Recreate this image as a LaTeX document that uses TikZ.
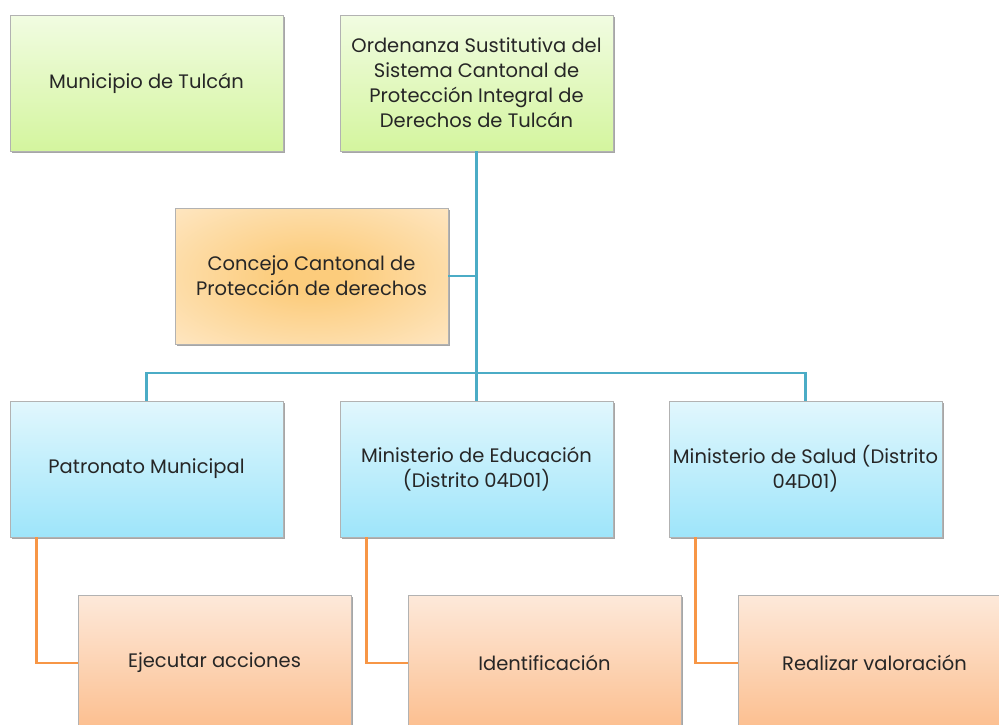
\documentclass[tikz,border=0pt]{standalone}
\usepackage{fontspec}
\setmainfont{Poppins}
\usetikzlibrary{shadows}
\definecolor{linkblue}{RGB}{75,172,198}
\definecolor{linkorange}{RGB}{247,150,70}
\definecolor{greentop}{RGB}{241,252,226}
\definecolor{greenbot}{RGB}{212,245,158}
\definecolor{bluetop}{RGB}{225,247,253}
\definecolor{bluebot}{RGB}{158,229,250}
\definecolor{orangetop}{RGB}{253,233,218}
\definecolor{orangebot}{RGB}{252,190,142}
\definecolor{concejoin}{RGB}{252,204,124}
\definecolor{concejoout}{RGB}{255,241,222}
\pgfdeclareradialshading{concejoshade}{\pgfpoint{0bp}{0bp}}{%
  color(0bp)=(concejoin); color(6bp)=(concejoin); color(48bp)=(concejoout); color(50bp)=(concejoout)}

\begin{document}
\begin{tikzpicture}[x=1pt, y=-1pt,
  box/.style={draw=gray!60, line width=0.8pt, minimum width=273pt, minimum height=136pt,
    align=center, inner sep=0pt, text=black!85,
    font=\fontsize{19.5}{25}\selectfont,
    drop shadow={shadow xshift=1.5pt, shadow yshift=-2pt, opacity=0.35, fill=black}},
  greenbox/.style={box, top color=greentop, bottom color=greenbot},
  bluebox/.style={box, top color=bluetop, bottom color=bluebot},
  orangebox/.style={box, top color=orangetop, bottom color=orangebot},
  blueline/.style={linkblue, line width=2.6pt},
  orangeline/.style={linkorange, line width=2.4pt}]
\clip (0,0) rectangle (999,724);
\fill[white] (0,0) rectangle (999,724);
% top row
\node[greenbox] (muni) at (146.5,83) {Municipio de Tulcán};
\node[greenbox] (ord) at (476.5,83) {Ordenanza Sustitutiva del\\ Sistema Cantonal de\\ Protección Integral de\\ Derechos de Tulcán};
% concejo
\node[box, shading=concejoshade] (concejo) at (311.5,276) {Concejo Cantonal de\\ Protección de derechos};
% second row
\node[bluebox] (patronato) at (146.5,469) {Patronato Municipal};
\node[bluebox] (educ) at (476.5,469) {Ministerio de Educación\\ (Distrito 04D01)};
\node[bluebox] (salud) at (805.5,469) {Ministerio de Salud (Distrito\\ 04D01)};
% third row
\node[orangebox] (ejecutar) at (214.5,663) {Ejecutar acciones};
\node[orangebox] (ident) at (544.5,663) {Identificación};
\node[orangebox] (valor) at (874.5,663) {Realizar valoración};
% blue links
\coordinate (hub) at (476.5,373);
\draw[blueline] (ord.south) -- (hub);
\draw[blueline] (concejo.east) -- (concejo.east -| hub);
\draw[blueline] (patronato.north) |- (hub) -| (salud.north);
\draw[blueline] (hub) -- (educ.north);
% orange links
\draw[orangeline] ([xshift=27pt]patronato.south west) |- (ejecutar.west);
\draw[orangeline] ([xshift=27pt]educ.south west) |- (ident.west);
\draw[orangeline] ([xshift=27pt]salud.south west) |- (valor.west);
\end{tikzpicture}
\end{document}
